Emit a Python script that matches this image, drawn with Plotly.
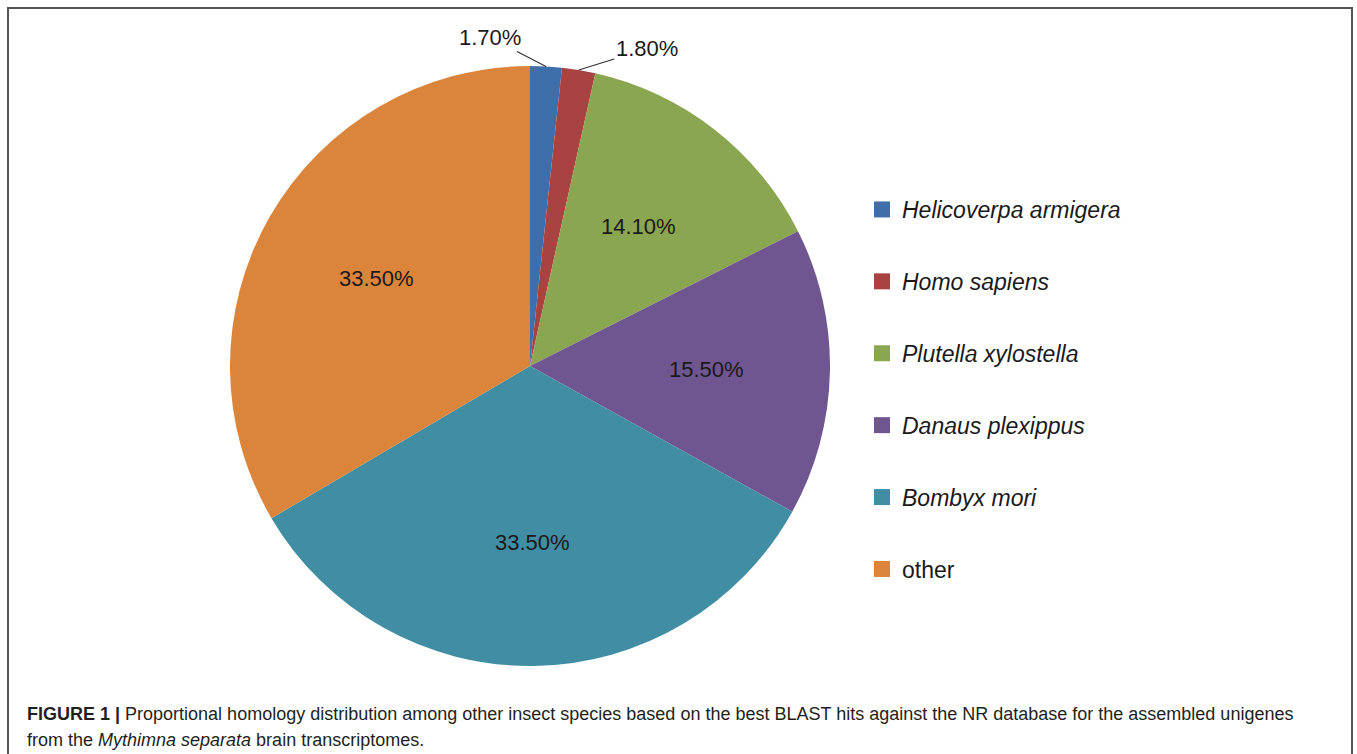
import math
import plotly.graph_objects as go

# Species share of best BLAST hits (percent)
species = ["Helicoverpa armigera", "Homo sapiens", "Plutella xylostella",
           "Danaus plexippus", "Bombyx mori", "other"]
italic = [True, True, True, True, True, False]
shares = [1.70, 1.80, 14.10, 15.50, 33.50, 33.50]
colors = ["#3F6FAA", "#A84342", "#8BA650", "#6F5690", "#418EA4", "#DB843C"]

W, H = 1357, 754
CX, CY, R = 530, 366, 300          # pie centre and radius, px
LABEL_R = 0.59                     # inside labels sit at this fraction of the radius
FONT = "Liberation Sans, Arial"

labels_txt = [f"{v:.2f}%" for v in shares]
small = [v < 5 for v in shares]

fig = go.Figure()
fig.add_trace(go.Pie(
    labels=species,
    values=shares,
    sort=False,
    direction="clockwise",
    rotation=0,
    marker=dict(colors=colors, line=dict(width=0)),
    textinfo="none",
    showlegend=False,
    hoverinfo="label+percent",
    domain=dict(x=[(CX - R) / W, (CX + R) / W], y=[1 - (CY + R) / H, 1 - (CY - R) / H]),
))

# Legend entries, one group each so the spacing can be widened
for name, it, col in zip(species, italic, colors):
    fig.add_trace(go.Scatter(
        x=[None], y=[None], mode="markers",
        marker=dict(symbol="square", size=16, color=col),
        name=f"<i>{name}</i>" if it else name,
        legendgroup=name, showlegend=True,
    ))

# Percentage labels: inside for wide slices, leader lines for the two thin ones
total = sum(shares)
offsets = {0: (-56, -29), 1: (68, -21)}
label_font = dict(family=FONT, size=22, color="#1a1a1a")
cum = 0.0
for i, v in enumerate(shares):
    mid = (cum + v / 2) / total * 2 * math.pi
    cum += v
    if small[i]:
        px = CX + R * math.sin(mid)
        py = CY - R * math.cos(mid)
        ax, ay = offsets[i]
        fig.add_annotation(
            x=px / W, y=1 - py / H, xref="paper", yref="paper",
            text=labels_txt[i], showarrow=True, arrowhead=0, arrowwidth=1.2,
            arrowcolor="#333333", ax=ax, ay=ay, font=label_font,
        )
    else:
        px = CX + LABEL_R * R * math.sin(mid)
        py = CY - LABEL_R * R * math.cos(mid)
        fig.add_annotation(
            x=px / W, y=1 - py / H, xref="paper", yref="paper",
            xanchor="center", yanchor="middle",
            text=labels_txt[i], showarrow=False, font=label_font,
        )

caption_lines = [
    "<b>FIGURE 1 |</b> Proportional homology distribution among other insect species "
    "based on the best BLAST hits against the NR database for the assembled unigenes",
    "from the <i>Mythimna separata</i> brain transcriptomes.",
]
for k, line in enumerate(caption_lines):
    fig.add_annotation(
        x=25 / W, y=1 - (714 + 26 * k) / H, xref="paper", yref="paper",
        xanchor="left", yanchor="middle", align="left", showarrow=False,
        text=line, font=dict(family=FONT, size=18, color="#231F20"),
    )

fig.add_shape(type="rect", xref="paper", yref="paper",
              x0=8 / W, x1=1352 / W, y0=-0.02, y1=1 - 8 / H,
              line=dict(color="#555555", width=2))

fig.update_layout(
    width=W, height=H,
    margin=dict(l=0, r=0, t=0, b=0),
    paper_bgcolor="white", plot_bgcolor="white",
    xaxis=dict(visible=False), yaxis=dict(visible=False),
    legend=dict(
        x=862 / W, y=1 - 188 / H, xanchor="left", yanchor="top",
        font=dict(family=FONT, size=23, color="#1a1a1a"),
        tracegroupgap=39, itemclick=False, itemdoubleclick=False,
        bgcolor="rgba(0,0,0,0)",
    ),
)

fig.write_html("out.html")
